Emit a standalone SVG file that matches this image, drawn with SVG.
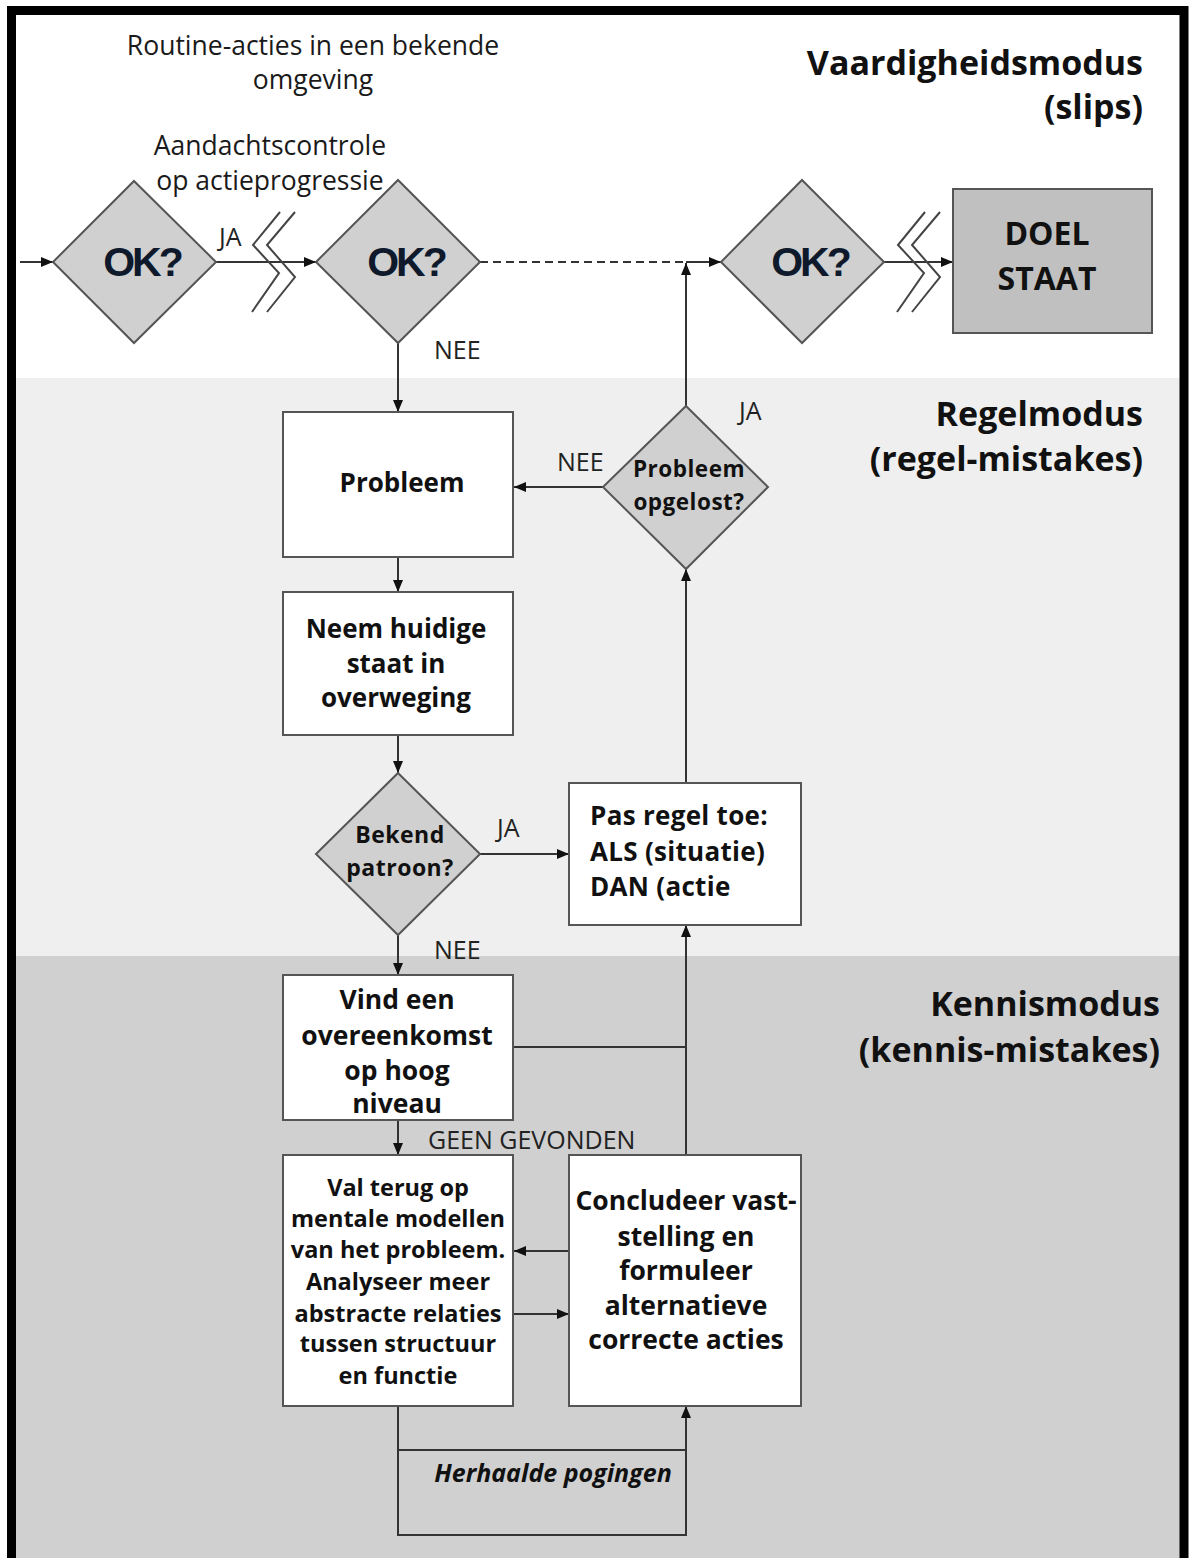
<svg xmlns="http://www.w3.org/2000/svg" width="1189" height="1558" viewBox="0 0 1189 1558">
<defs>
<marker id="ah" viewBox="0 0 12 10" refX="12" refY="5" markerWidth="12" markerHeight="10" markerUnits="userSpaceOnUse" orient="auto"><path d="M0,0 L12,5 L0,10 z" fill="#111"/></marker>
<style>
.box{fill:#fff;stroke:#555;stroke-width:2}
.dia{fill:#d0d0d0;stroke:#555;stroke-width:2}
.goal{fill:#c0c0c0;stroke:#555;stroke-width:2}
.ln{fill:none;stroke:#333;stroke-width:2}
.arr{fill:none;stroke:#333;stroke-width:2;marker-end:url(#ah)}
.brk{fill:none;stroke:#444;stroke-width:2}
.t{font-family:"Open Sans","Noto Sans",sans-serif;fill:#1a1a1a;font-size:26.5px;text-anchor:middle}
.b{font-family:"Open Sans","Noto Sans",sans-serif;font-weight:bold;fill:#111;text-anchor:middle}
.bl{font-family:"Open Sans","Noto Sans",sans-serif;font-weight:bold;fill:#111;text-anchor:start}
.h{font-family:"Open Sans","Noto Sans",sans-serif;font-weight:bold;fill:#111;font-size:34px;text-anchor:end}
.ok{font-family:"Liberation Sans",Arial,sans-serif;font-weight:bold;font-size:41px;fill:#0e1a2c;text-anchor:middle;letter-spacing:-3px}
.lab{font-family:"Open Sans","Noto Sans",sans-serif;fill:#222;font-size:25px}
</style>
</defs>
<g id="background">
<rect x="16" y="15" width="1164" height="363" fill="#fff"/>
<rect x="16" y="378" width="1164" height="578" fill="#efefef"/>
<rect x="16" y="956" width="1164" height="602" fill="#d0d0d0"/>
<rect x="11.5" y="10.5" width="1172.5" height="1570" fill="none" stroke="#000" stroke-width="9"/>
</g>
<g id="band-labels">
<text class="t" x="313" y="55">Routine-acties in een bekende</text>
<text class="t" x="313" y="89">omgeving</text>
<text class="t" x="270" y="155">Aandachtscontrole</text>
<text class="t" x="270" y="190">op actieprogressie</text>
<text class="h" x="1143" y="75">Vaardigheidsmodus</text>
<text class="h" x="1143" y="119">(slips)</text>
<text class="h" x="1143" y="426">Regelmodus</text>
<text class="h" x="1143" y="471">(regel-mistakes)</text>
<text class="h" x="1160" y="1016">Kennismodus</text>
<text class="h" x="1160" y="1062">(kennis-mistakes)</text>
</g>
<g id="connectors">
<line class="arr" x1="20" y1="262" x2="53" y2="262"/>
<line class="arr" x1="216" y1="262" x2="316" y2="262"/>
<polyline class="brk" points="280,212 253,245 279,273 252,312"/>
<polyline class="brk" points="295,212 267,245 295,277 267,312"/>
<line class="ln" x1="480" y1="262" x2="686" y2="262" stroke-dasharray="8,5"/>
<line class="arr" x1="686" y1="262" x2="721" y2="262"/>
<line class="arr" x1="686" y1="406" x2="686" y2="263"/>
<line class="arr" x1="884" y1="262" x2="953" y2="262"/>
<polyline class="brk" points="925,212 898,245 924,273 897,312"/>
<polyline class="brk" points="940,212 912,245 940,277 912,312"/>
<line class="arr" x1="398" y1="343" x2="398" y2="412"/>
<line class="arr" x1="603" y1="487" x2="514" y2="487"/>
<line class="arr" x1="398" y1="557" x2="398" y2="592"/>
<line class="arr" x1="398" y1="735" x2="398" y2="773"/>
<line class="arr" x1="480" y1="854" x2="569" y2="854"/>
<line class="arr" x1="686" y1="783" x2="686" y2="569"/>
<line class="arr" x1="398" y1="935" x2="398" y2="975"/>
<polyline class="ln" points="513,1047 686,1047"/>
<line class="arr" x1="686" y1="1155" x2="686" y2="925"/>
<line class="arr" x1="398" y1="1120" x2="398" y2="1155"/>
<line class="arr" x1="569" y1="1251" x2="514" y2="1251"/>
<line class="arr" x1="513" y1="1314" x2="569" y2="1314"/>
<polyline class="arr" points="398,1406 398,1535 686,1535 686,1406"/>
<line class="ln" x1="398" y1="1450" x2="686" y2="1450"/>
<text class="lab" x="219" y="246">JA</text>
<text class="lab" x="434" y="359">NEE</text>
<text class="lab" x="739" y="420">JA</text>
<text class="lab" x="557" y="471">NEE</text>
<text class="lab" x="497" y="837">JA</text>
<text class="lab" x="434" y="959">NEE</text>
<text class="lab" x="428" y="1149" font-size="21.3">GEEN GEVONDEN</text>
<text class="b" x="553" y="1482" font-size="25" font-style="italic">Herhaalde pogingen</text>
</g>
<g id="ok1"><polygon class="dia" points="134,181 216,262 134,343 53,262"/><text class="ok" x="142" y="276">OK?</text></g>
<g id="ok2"><polygon class="dia" points="398,180 480,262 398,343 316,262"/><text class="ok" x="406" y="276">OK?</text></g>
<g id="ok3"><polygon class="dia" points="802,180 884,262 802,343 721,262"/><text class="ok" x="810" y="276">OK?</text></g>
<g id="doel"><rect class="goal" x="953" y="189" width="199" height="144"/><text class="b" x="1047" y="245" font-size="32">DOEL</text><text class="b" x="1047" y="290" font-size="32">STAAT</text></g>
<g id="probleem"><rect class="box" x="283" y="412" width="230" height="145"/><text class="b" x="402" y="492" font-size="26">Probleem</text></g>
<g id="neem"><rect class="box" x="283" y="592" width="230" height="143"/><text class="b" x="396" y="638" font-size="26">Neem huidige</text><text class="b" x="396" y="673" font-size="26">staat in</text><text class="b" x="396" y="707" font-size="26">overweging</text></g>
<g id="bekend"><polygon class="dia" points="398,773 480,854 398,935 316,854"/><text class="b" x="400" y="843" font-size="23" letter-spacing="0.5">Bekend</text><text class="b" x="400" y="876" font-size="23" letter-spacing="0.5">patroon?</text></g>
<g id="opgelost"><polygon class="dia" points="686,406 768,487 686,569 603,487"/><text class="b" x="689" y="477" font-size="22.5" letter-spacing="0.5">Probleem</text><text class="b" x="689" y="510" font-size="22.5" letter-spacing="0.5">opgelost?</text></g>
<g id="regel"><rect class="box" x="569" y="783" width="232" height="142"/><text class="bl" x="590" y="825" font-size="26" letter-spacing="0.3">Pas regel toe:</text><text class="bl" x="590" y="861" font-size="26" letter-spacing="0.3">ALS (situatie)</text><text class="bl" x="590" y="896" font-size="26" letter-spacing="0.3">DAN (actie</text></g>
<g id="vind"><rect class="box" x="283" y="975" width="230" height="145"/><text class="b" x="397" y="1009" font-size="26.5">Vind een</text><text class="b" x="397" y="1045" font-size="26.5">overeenkomst</text><text class="b" x="397" y="1080" font-size="26.5">op hoog</text><text class="b" x="397" y="1113" font-size="26.5">niveau</text></g>
<g id="valterug"><rect class="box" x="283" y="1155" width="230" height="251"/>
<text class="b" x="398" y="1196" font-size="23.5">Val terug op</text><text class="b" x="398" y="1227" font-size="23.5">mentale modellen</text><text class="b" x="398" y="1258" font-size="23.5">van het probleem.</text><text class="b" x="398" y="1290" font-size="23.5">Analyseer meer</text><text class="b" x="398" y="1322" font-size="23.5">abstracte relaties</text><text class="b" x="398" y="1352" font-size="23.5">tussen structuur</text><text class="b" x="398" y="1384" font-size="23.5">en functie</text></g>
<g id="concludeer"><rect class="box" x="569" y="1155" width="232" height="251"/>
<text class="b" x="686" y="1210" font-size="26.5">Concludeer vast-</text><text class="b" x="686" y="1246" font-size="26.5">stelling en</text><text class="b" x="686" y="1280" font-size="26.5">formuleer</text><text class="b" x="686" y="1315" font-size="26.5">alternatieve</text><text class="b" x="686" y="1349" font-size="26.5">correcte acties</text></g>
</svg>
